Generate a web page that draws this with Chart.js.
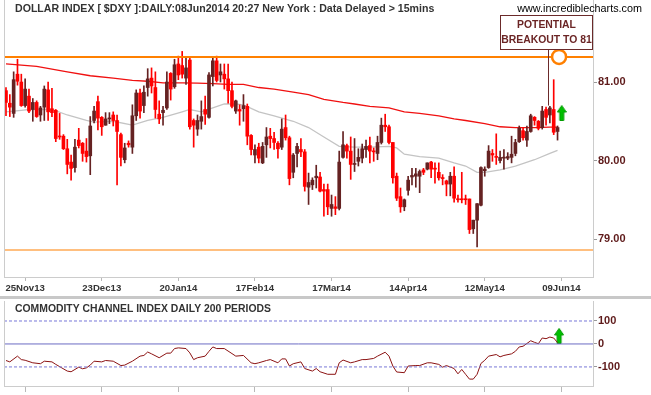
<!DOCTYPE html>
<html>
<head>
<meta charset="utf-8">
<script src="https://cdn.jsdelivr.net/npm/chart.js@4"></script>
<style>
body { margin: 0; background: #fff; }
#wrap { position: relative; width: 651px; height: 395px; overflow: hidden; }
#main { position: absolute; left: 0; top: 0; }
#sep { position: absolute; left: 0; top: 296px; width: 651px; height: 3px; background: #c8c8c8; }
#cci { position: absolute; left: 0; top: 299px; }
</style>
</head>
<body>
<div id="wrap">
  <canvas id="main" width="651" height="296"></canvas>
  <div id="sep"></div>
  <canvas id="cci" width="651" height="96"></canvas>
</div>
<script>
// datos (velas diarias, indice 0 = 18Nov13)
const tickDays = [5, 25, 45, 65, 85, 105, 125, 145]
const tickLabels = ['25Nov13', '23Dec13', '20Jan14', '17Feb14', '17Mar14', '14Apr14', '12May14', '09Jun14']
const priceTicks = [79, 80, 81]
const cciTicks = [100, 0, -100]

const opens = [
  80.89, 80.73, 80.60, 81.10, 81.00, 80.70, 80.82, 80.65, 80.74, 80.58,
  80.68, 80.90, 80.66, 80.64, 80.31, 80.31, 80.15, 79.98, 79.91, 80.26,
  80.22, 80.12, 80.06, 80.51, 80.75, 80.55, 80.45, 80.53, 80.58, 80.51,
  80.33, 80.01, 80.22, 80.17, 80.57, 80.86, 80.70, 80.93, 81.05, 80.93,
  80.59, 80.61, 80.67, 81.11, 80.94, 81.23, 81.21, 81.05, 81.28, 80.51,
  80.40, 80.50, 80.65, 80.55, 81.07, 81.27, 81.09, 81.10, 81.04, 80.89,
  80.63, 80.65, 80.66, 80.69, 80.32, 80.07, 80.17, 79.97, 80.20, 80.31,
  80.28, 80.22, 80.17, 80.42, 80.29, 79.85, 80.09, 80.14, 80.11, 79.66,
  79.69, 79.78, 79.79, 79.63, 79.63, 79.39, 79.41, 79.39, 80.04, 80.19,
  80.12, 79.95, 79.99, 80.03, 80.14, 80.19, 80.12, 80.09, 80.23, 80.45,
  80.43, 80.23, 79.80, 79.54, 79.41, 79.62, 79.79, 79.80, 79.80, 79.88,
  79.89, 79.98, 79.90, 79.85, 79.77, 79.74, 79.70, 79.80, 79.51, 79.51,
  79.51, 79.51, 79.13, 79.24, 79.43, 79.87, 79.91, 80.09, 80.05, 80.00,
  80.03, 80.03, 80.04, 80.09, 80.24, 80.38, 80.26, 80.37, 80.55, 80.50,
  80.42, 80.65, 80.58, 80.65, 80.37
]
const highs = [
  80.93, 80.84, 81.13, 81.29, 81.10, 81.04, 80.91, 80.79, 80.76, 80.69,
  80.95, 81.00, 80.92, 80.65, 80.60, 80.33, 80.27, 80.07, 80.27, 80.41,
  80.23, 80.28, 80.56, 80.69, 80.82, 80.56, 80.61, 80.61, 80.62, 80.58,
  80.35, 80.22, 80.25, 80.71, 80.90, 80.91, 80.95, 81.17, 81.18, 81.13,
  80.76, 80.69, 81.13, 81.12, 81.29, 81.33, 81.39, 81.31, 81.31, 80.53,
  80.58, 80.76, 80.82, 81.12, 81.32, 81.33, 81.23, 81.23, 81.23, 81.00,
  80.77, 80.71, 80.84, 80.72, 80.33, 80.20, 80.22, 80.23, 80.42, 80.41,
  80.36, 80.24, 80.53, 80.58, 80.31, 80.09, 80.22, 80.28, 80.14, 79.84,
  79.78, 79.94, 79.85, 79.70, 79.70, 79.56, 79.54, 80.12, 80.37, 80.21,
  80.30, 80.28, 80.15, 80.21, 80.26, 80.30, 80.16, 80.31, 80.54, 80.59,
  80.45, 80.23, 79.84, 79.65, 79.51, 79.80, 79.90, 79.90, 79.88, 79.90,
  79.97, 79.99, 79.97, 79.97, 79.82, 79.75, 79.85, 79.92, 79.56, 79.85,
  79.56, 79.51, 79.24, 79.45, 79.92, 79.92, 80.19, 80.14, 80.34, 80.12,
  80.14, 80.10, 80.31, 80.27, 80.44, 80.42, 80.44, 80.59, 80.56, 80.51,
  80.69, 80.68, 80.69, 81.03, 80.44
]
const lows = [
  80.57, 80.56, 80.55, 80.96, 80.69, 80.68, 80.61, 80.50, 80.55, 80.50,
  80.51, 80.51, 80.56, 80.24, 80.27, 80.14, 79.83, 79.75, 79.85, 80.16,
  79.99, 79.98, 79.82, 80.48, 80.39, 80.32, 80.45, 80.47, 80.44, 79.69,
  79.93, 79.97, 80.17, 80.09, 80.51, 80.54, 80.61, 80.82, 80.86, 80.54,
  80.47, 80.45, 80.65, 80.77, 80.92, 81.03, 81.05, 80.97, 80.40, 80.17,
  80.32, 80.40, 80.46, 80.54, 80.95, 81.00, 81.00, 80.91, 80.73, 80.67,
  80.60, 80.45, 80.50, 80.20, 80.07, 79.97, 79.97, 79.96, 80.04, 80.16,
  80.14, 80.03, 80.14, 80.26, 79.69, 79.78, 79.92, 80.05, 79.61, 79.44,
  79.63, 79.65, 79.60, 79.29, 79.31, 79.29, 79.31, 79.37, 80.03, 80.03,
  79.76, 79.86, 79.93, 79.97, 80.04, 79.97, 79.99, 80.01, 80.21, 80.37,
  80.21, 79.71, 79.49, 79.34, 79.36, 79.56, 79.69, 79.66, 79.59, 79.82,
  79.88, 79.78, 79.71, 79.75, 79.69, 79.55, 79.55, 79.47, 79.47, 79.46,
  79.44, 79.07, 79.07, 78.90, 79.42, 79.80, 79.90, 79.99, 79.95, 79.97,
  79.89, 80.01, 79.97, 80.06, 80.23, 80.26, 80.18, 80.36, 80.45, 80.39,
  80.40, 80.45, 80.48, 80.33, 80.26
]
const closes = [
  80.74, 80.68, 81.03, 81.01, 80.70, 80.91, 80.63, 80.74, 80.56, 80.67,
  80.91, 80.62, 80.61, 80.28, 80.30, 80.15, 79.95, 79.90, 80.17, 80.19,
  80.09, 80.05, 80.44, 80.63, 80.54, 80.43, 80.53, 80.54, 80.51, 80.37,
  80.04, 80.16, 80.20, 80.57, 80.86, 80.63, 80.87, 81.04, 80.95, 80.65,
  80.53, 80.64, 81.00, 80.91, 81.22, 81.09, 81.10, 81.18, 80.43, 80.45,
  80.51, 80.56, 80.59, 81.09, 81.27, 81.02, 81.13, 81.04, 80.89, 80.69,
  80.76, 80.63, 80.70, 80.31, 80.14, 80.14, 80.03, 80.18, 80.30, 80.28,
  80.23, 80.15, 80.40, 80.29, 79.77, 80.07, 80.18, 80.11, 79.67, 79.72,
  79.75, 79.80, 79.61, 79.61, 79.41, 79.44, 79.39, 79.98, 80.20, 80.12,
  79.95, 79.96, 80.04, 80.15, 80.18, 80.12, 80.11, 80.23, 80.45, 80.43,
  80.23, 79.78, 79.52, 79.41, 79.50, 79.75, 79.81, 79.83, 79.86, 79.85,
  79.97, 79.89, 79.89, 79.78, 79.77, 79.70, 79.80, 79.52, 79.50, 79.50,
  79.50, 79.12, 79.24, 79.45, 79.91, 79.89, 80.12, 80.07, 80.04, 80.04,
  80.04, 80.05, 80.08, 80.23, 80.41, 80.29, 80.37, 80.57, 80.51, 80.41,
  80.63, 80.55, 80.67, 80.36, 80.42
]

// medias moviles (roja larga, gris corta)
const maRedDay = [0, 8, 16, 22, 28, 33, 37, 41, 46, 50, 54, 58, 62, 66, 70, 75, 79, 83, 88, 91, 95, 100, 104, 108, 113, 117, 120, 125, 129, 133, 138, 142, 144]
const maRedVal = [81.23, 81.20, 81.13, 81.08, 81.05, 81.02, 81.01, 80.99, 80.99, 80.985, 80.98, 80.97, 80.97, 80.93, 80.91, 80.87, 80.84, 80.78, 80.74, 80.72, 80.69, 80.67, 80.62, 80.60, 80.57, 80.53, 80.51, 80.47, 80.43, 80.42, 80.42, 80.425, 80.425]
const maGreyDay = [0, 4, 6, 12, 16, 21, 23, 28, 33, 37, 41, 46, 48, 51, 54, 57, 60, 62, 66, 70, 75, 79, 83, 87, 91, 95, 100, 102, 104, 108, 113, 117, 120, 123, 125, 129, 133, 138, 142, 144]
const maGreyVal = [80.62, 80.64, 80.65, 80.65, 80.58, 80.51, 80.49, 80.50, 80.45, 80.51, 80.55, 80.62, 80.65, 80.62, 80.67, 80.72, 80.72, 80.71, 80.62, 80.57, 80.50, 80.42, 80.30, 80.18, 80.17, 80.17, 80.18, 80.16, 80.08, 80.05, 80.03, 79.97, 79.93, 79.85, 79.85, 79.88, 79.93, 80.01, 80.09, 80.13]

// CCI 200 periodos
const cciDay = [0, 1, 3, 4, 5, 7, 9, 10, 12, 13, 16, 17, 19, 20, 21, 22, 23, 25, 26, 28, 30, 31, 33, 35, 36, 37, 38, 40, 42, 43, 44, 45, 47, 48, 49, 50, 52, 53, 54, 55, 57, 59, 60, 62, 64, 65, 66, 68, 69, 71, 72, 73, 74, 75, 77, 78, 80, 81, 82, 84, 86, 87, 88, 90, 91, 93, 94, 96, 97, 99, 100, 101, 102, 104, 105, 107, 108, 110, 111, 113, 114, 115, 117, 118, 119, 120, 121, 122, 123, 124, 125, 126, 128, 129, 130, 132, 133, 134, 135, 137, 138, 139, 140, 141, 142, 143, 144]
const cciVal = [-72, -78, -53, -68, -71, -82, -86, -75, -78, -89, -118, -121, -101, -108, -104, -92, -75, -78, -72, -75, -94, -92, -75, -53, -50, -35, -43, -60, -40, -40, -20, -17, -20, -39, -68, -60, -53, -32, -13, -20, -20, -42, -53, -50, -82, -86, -82, -72, -68, -82, -65, -65, -96, -86, -78, -107, -118, -107, -121, -132, -132, -82, -70, -82, -78, -68, -68, -63, -53, -36, -53, -96, -122, -125, -96, -94, -94, -82, -82, -89, -101, -94, -107, -130, -111, -132, -153, -153, -132, -85, -71, -53, -46, -56, -50, -43, -32, -13, -10, 14, 7, 1, 26, 23, 30, 26, 6]

const resistance = 81.32
const support = 78.86
const breakout = { x: 144.4, y: 81.32 }
const arrowMain = { x: 145.1, y: 80.605 }
const arrowCci = { x: 144.4, y: 35 }
const noteText = ['POTENTIAL', 'BREAKOUT TO 81']
const note = { left: 129, top: 81.853, bottom: 81.42, pointerX: 141.5, pointerEnd: 80.70 }

const xMin = -0.52
const xMax = 153.26
const fSans = '"Liberation Sans", Arial, sans-serif'
const maroon = '#5e1a1a'

const colorVela = opens.map((o, i) => closes[i] > o ? '#652222' : '#ff0000')

// flecha verde como pointStyle
function flecha() {
  const c = document.createElement('canvas')
  c.width = 10
  c.height = 16
  const g = c.getContext('2d')
  g.fillStyle = '#00c000'
  g.strokeStyle = '#009a00'
  g.beginPath()
  g.moveTo(5, 0.5); g.lineTo(9.5, 7); g.lineTo(7, 7); g.lineTo(7, 15.5)
  g.lineTo(3, 15.5); g.lineTo(3, 7); g.lineTo(0.5, 7); g.closePath()
  g.fill()
  g.stroke()
  return c
}
const imgFlecha = flecha()

// quitar el relleno automatico que agrega chart.js por las etiquetas
const sinRelleno = s => { s.paddingLeft = 0; s.paddingRight = 0; s.paddingTop = 0; s.paddingBottom = 0 }

const marco = {
  id: 'marco',
  afterDraw(chart) {
    const { ctx, chartArea: a } = chart
    ctx.save()
    ctx.strokeStyle = '#cccccc'
    ctx.lineWidth = 1
    ctx.beginPath()
    ctx.moveTo(a.left + 0.5, a.top)
    ctx.lineTo(a.left + 0.5, a.bottom)
    ctx.stroke()
    ctx.restore()
  }
}

const textosMain = {
  id: 'textosMain',
  afterDraw(chart) {
    const { ctx, scales: { x, y }, chartArea: a } = chart
    ctx.save()
    ctx.textBaseline = 'middle'
    ctx.fillStyle = '#333333'
    ctx.font = 'bold 10.6px ' + fSans
    ctx.fillText('DOLLAR INDEX [ $DXY ]:DAILY:08Jun2014 20:27 New York : Data Delayed > 15mins', 15, 9)
    ctx.fillStyle = '#000000'
    ctx.font = '10.8px ' + fSans
    ctx.textAlign = 'right'
    ctx.fillText('www.incrediblecharts.com', 642, 9)

    // nota
    const l = Math.round(x.getPixelForValue(note.left)) + 0.5
    const r = a.right - 0.5
    const t = Math.round(y.getPixelForValue(note.top)) + 0.5
    const b = Math.round(y.getPixelForValue(note.bottom)) + 0.5
    ctx.fillStyle = '#ffffff'
    ctx.fillRect(l, t, r - l, b - t)
    ctx.strokeStyle = '#6b2a2a'
    ctx.lineWidth = 1
    ctx.strokeRect(l, t, r - l, b - t)
    const px = Math.round(x.getPixelForValue(note.pointerX)) + 0.5
    ctx.beginPath()
    ctx.moveTo(px, b)
    ctx.lineTo(px, y.getPixelForValue(note.pointerEnd))
    ctx.stroke()
    ctx.fillStyle = '#6b2525'
    ctx.font = 'bold 10.4px ' + fSans
    ctx.textAlign = 'center'
    ctx.fillText(noteText[0], (l + r) / 2, t + 9.5)
    ctx.fillText(noteText[1], (l + r) / 2, t + 24.5)
    ctx.restore()
  }
}

const textosCci = {
  id: 'textosCci',
  afterDraw(chart) {
    const ctx = chart.ctx
    ctx.save()
    ctx.textBaseline = 'middle'
    ctx.fillStyle = '#333333'
    ctx.font = 'bold 10.4px ' + fSans
    ctx.fillText('COMMODITY CHANNEL INDEX DAILY 200 PERIODS', 15, 10)
    ctx.restore()
  }
}

const puntos = (dias, vals) => dias.map((d, i) => ({ x: d, y: vals[i] }))

new Chart(document.getElementById('main'), {
  type: 'bar',
  data: {
    datasets: [
      {
        type: 'line', data: [{ x: xMin, y: resistance }, { x: xMax, y: resistance }],
        borderColor: '#ff8000', borderWidth: 2, pointRadius: 0, order: 1
      },
      {
        type: 'line', data: [{ x: xMin, y: support }, { x: xMax, y: support }],
        borderColor: '#ff8000', borderWidth: 1.2, pointRadius: 0, order: 1
      },
      {
        type: 'line', data: [breakout],
        showLine: false, pointRadius: 7, pointBorderWidth: 2.5,
        pointBorderColor: '#ff8000', pointBackgroundColor: '#ffffff', order: 0
      },
      {
        type: 'line', data: [arrowMain],
        showLine: false, pointStyle: imgFlecha, order: 0
      },
      {
        data: opens.map((o, i) => ({ x: i, y: [lows[i], highs[i]] })),
        backgroundColor: colorVela, barThickness: 1, grouped: false, minBarLength: 1, order: 3
      },
      {
        data: opens.map((o, i) => ({ x: i, y: [o, closes[i]] })),
        backgroundColor: colorVela, barThickness: 3, grouped: false, minBarLength: 1, order: 2
      },
      {
        type: 'line', data: puntos(maRedDay, maRedVal),
        borderColor: '#f01010', borderWidth: 1.3, pointRadius: 0, order: 4
      },
      {
        type: 'line', data: puntos(maGreyDay, maGreyVal),
        borderColor: '#c4c4c4', borderWidth: 1.3, pointRadius: 0, order: 4
      }
    ]
  },
  options: {
    responsive: false,
    animation: false,
    events: [],
    layout: { autoPadding: false, padding: { left: 4, top: 0, right: 0, bottom: 0 } },
    plugins: { legend: { display: false }, tooltip: { enabled: false } },
    scales: {
      x: {
        type: 'linear', min: xMin, max: xMax, offset: false,
        grid: { drawOnChartArea: false, tickLength: 4, color: '#b8b8b8', offset: false },
        border: { color: '#cccccc' },
        afterBuildTicks: s => { s.ticks = tickDays.map(v => ({ value: v })) },
        afterFit: s => { s.height = 19; sinRelleno(s) },
        ticks: {
          callback: v => tickLabels[tickDays.indexOf(v)],
          font: { family: fSans, size: 9.6, weight: 'bold' }, color: '#333333',
          padding: 2, maxRotation: 0, autoSkip: false
        }
      },
      y: {
        position: 'right', min: 78.516, max: 82.045, beginAtZero: false,
        grid: { drawOnChartArea: false, tickLength: 4, color: '#999999' },
        border: { color: '#cccccc' },
        afterBuildTicks: s => { s.ticks = priceTicks.map(v => ({ value: v })) },
        afterFit: s => { s.width = 58; sinRelleno(s) },
        ticks: {
          callback: v => v.toFixed(2),
          font: { family: fSans, size: 11, weight: 'bold' }, color: maroon, padding: 1
        }
      }
    }
  },
  plugins: [marco, textosMain]
})

new Chart(document.getElementById('cci'), {
  type: 'line',
  data: {
    datasets: [
      {
        data: [{ x: xMin, y: 100 }, { x: xMax, y: 100 }],
        borderColor: '#7878d8', borderWidth: 1, borderDash: [3, 2], pointRadius: 0
      },
      {
        data: [{ x: xMin, y: -100 }, { x: xMax, y: -100 }],
        borderColor: '#7878d8', borderWidth: 1, borderDash: [3, 2], pointRadius: 0
      },
      {
        data: [{ x: xMin, y: 0 }, { x: xMax, y: 0 }],
        borderColor: '#6c6cc4', borderWidth: 1, pointRadius: 0
      },
      {
        data: puntos(cciDay, cciVal),
        borderColor: '#8b1212', borderWidth: 1, pointRadius: 0, tension: 0
      },
      {
        data: [arrowCci], showLine: false, pointStyle: imgFlecha
      }
    ]
  },
  options: {
    responsive: false,
    animation: false,
    events: [],
    layout: { autoPadding: false, padding: { left: 4, top: 2, right: 0, bottom: 0 } },
    plugins: { legend: { display: false }, tooltip: { enabled: false } },
    scales: {
      x: {
        type: 'linear', min: xMin, max: xMax,
        grid: { drawOnChartArea: false, tickLength: 6, color: '#b8b8b8' },
        border: { color: '#cccccc' },
        afterBuildTicks: s => { s.ticks = tickDays.map(v => ({ value: v })) },
        afterFit: s => { s.height = 9; sinRelleno(s) },
        ticks: { callback: () => '', font: { size: 1 }, padding: 0 }
      },
      y: {
        position: 'right', min: -183, max: 187,
        grid: { drawOnChartArea: false, tickLength: 4, color: '#999999' },
        border: { color: '#cccccc' },
        afterBuildTicks: s => { s.ticks = cciTicks.map(v => ({ value: v })) },
        afterFit: s => { s.width = 58; sinRelleno(s) },
        ticks: {
          callback: v => String(v),
          font: { family: fSans, size: 11, weight: 'bold' }, color: maroon, padding: 1
        }
      }
    }
  },
  plugins: [marco, textosCci]
})
</script>
</body>
</html>
